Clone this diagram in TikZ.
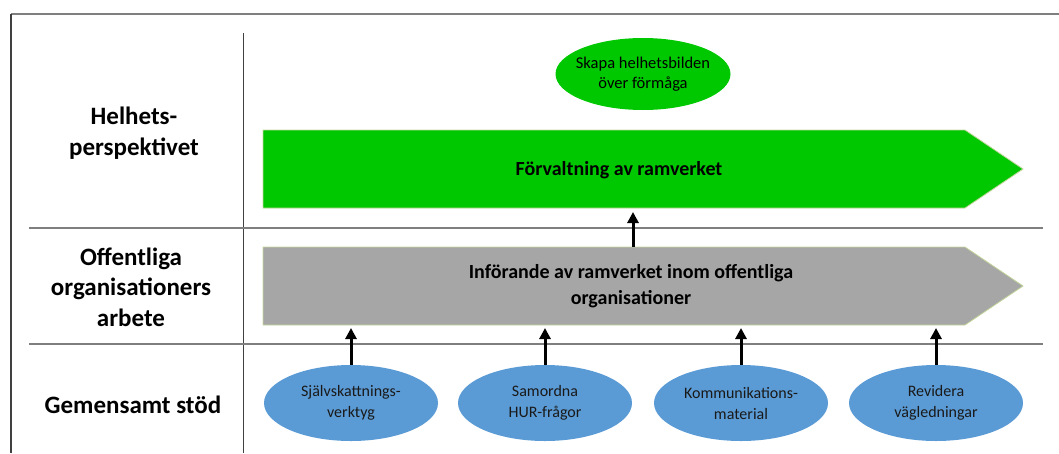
\documentclass[tikz,border=0pt]{standalone}
\usepackage{fontspec}
\setmainfont{Carlito}
\usetikzlibrary{arrows.meta,shapes.geometric}
\definecolor{grn}{HTML}{00C800}
\definecolor{blu}{HTML}{5B9BD5}
\definecolor{gry}{HTML}{A6A6A6}
\definecolor{olv}{HTML}{C3D69B}
\definecolor{sepc}{HTML}{7F7F7F}
\definecolor{framec}{HTML}{404040}
\tikzset{
  rowlabel/.style={font=\fontsize{25}{30.5}\selectfont\bfseries, align=center, inner sep=0pt},
  arrowtext/.style={font=\fontsize{20}{26}\selectfont\bfseries, align=center, inner sep=0pt},
  support/.style={ellipse, fill=blu, minimum width=174pt, minimum height=76pt, inner xsep=-15pt, inner ysep=-5pt, align=center, font=\fontsize{16}{21}\selectfont, text=black!90},
  goal/.style={ellipse, fill=grn, minimum width=175pt, minimum height=72pt, inner xsep=-20pt, inner ysep=-8pt, align=center, font=\fontsize{16.5}{19.5}\selectfont},
  seprule/.style={draw=sepc, line width=2pt},
  uparrow/.style={draw=black, line width=3pt, -{Triangle[width=11pt,length=11pt]}}
}
\begin{document}
\begin{tikzpicture}[x=1pt,y=-1pt]
\useasboundingbox (0,0) rectangle (1059,453);
% frame and separators
\draw[seprule] (11,14) -- (1059,14);
\draw[draw=framec, line width=1.5pt] (11,14) -- (11,453);
\draw[draw=framec, line width=1pt] (243,33) -- (243,453);
\draw[seprule] (29,228) -- (1043,228);
\draw[seprule] (29,344) -- (1043,344);
% row labels
\node[rowlabel] (l1) at (134,133) {Helhets-\\perspektivet};
\node[rowlabel] (l2) at (131,287) {Offentliga\\organisationers\\arbete};
\node[rowlabel] (l3) at (133,405) {Gemensamt stöd};
% big arrows
\fill[grn, draw=olv, line width=0.8pt] (263,130) -- (965,130) -- (1023,169) -- (965,208) -- (263,208) -- cycle;
\fill[gry, draw=olv, line width=0.8pt] (263,247) -- (965,247) -- (1023,286) -- (965,325) -- (263,325) -- cycle;
\node[arrowtext] (forv) at (619,170) {Förvaltning av ramverket};
\node[arrowtext] (inf) at (631,286) {Införande av ramverket inom offentliga\\organisationer};
\coordinate (gtop) at (633,247);
\coordinate (gbot) at (633,212);
% goal ellipse
\node[goal] (skapa) at (643,74) {Skapa helhetsbilden\\över förmåga};
% support ellipses
\node[support] (s1) at (351,403) {Självskattnings-\\verktyg};
\node[support] (s2) at (545,403) {Samordna\\HUR-frågor};
\node[support] (s3) at (741,403) {Kommunikations-\\material};
\node[support] (s4) at (936,403) {Revidera\\vägledningar};
\coordinate (t1) at (351,328);
\coordinate (t2) at (545,328);
\coordinate (t3) at (741,328);
\coordinate (t4) at (936,328);
% connectors
\draw[uparrow] (gtop) -- (gbot);
\draw[uparrow] (s1.north) -- (t1);
\draw[uparrow] (s2.north) -- (t2);
\draw[uparrow] (s3.north) -- (t3);
\draw[uparrow] (s4.north) -- (t4);
\end{tikzpicture}
\end{document}
